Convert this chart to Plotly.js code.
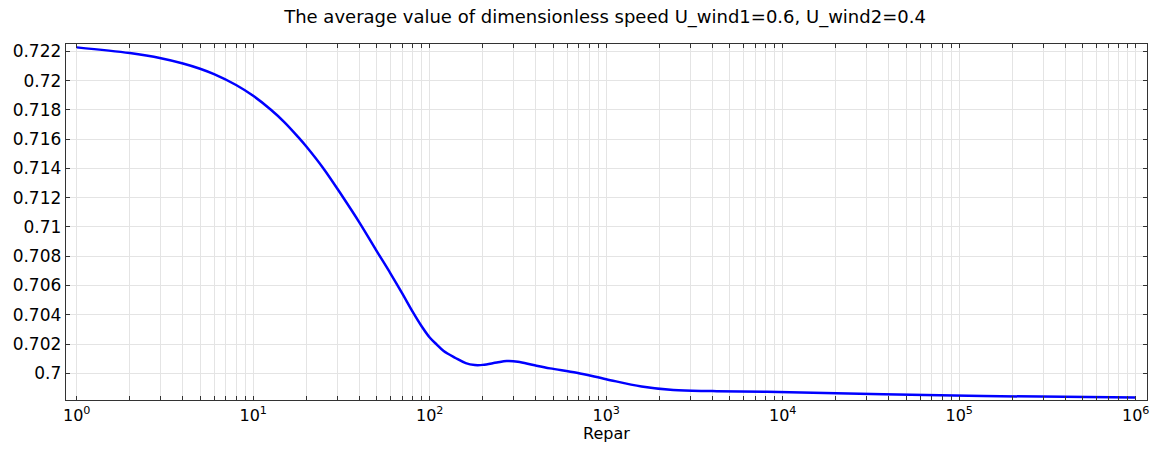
<!DOCTYPE html>
<html>
<head>
<meta charset="utf-8">
<script src="https://cdn.plot.ly/plotly-3.0.1.min.js"></script>
<style>html,body{margin:0;padding:0;background:#fff;}#chart{width:1168px;height:449px;}</style>
</head>
<body>
<div id="chart"></div>
<script>
const repar = [1, 2, 3, 4, 5, 6, 8, 10, 12.6, 15, 18, 20, 25, 32, 40, 50, 60, 70, 80, 90, 100, 110, 120, 140, 160, 180, 200, 240, 273, 316, 387, 481, 681, 1000, 1585, 2400, 4000, 8110, 37150, 136800, 1000000];
const avgSpeed = [0.72227, 0.72188, 0.72153, 0.72117, 0.72081, 0.72044, 0.71970, 0.71896, 0.71801, 0.71717, 0.71614, 0.71550, 0.71400, 0.71210, 0.71030, 0.70837, 0.70682, 0.70545, 0.70422, 0.70322, 0.70245, 0.70195, 0.70152, 0.70105, 0.70070, 0.70057, 0.70058, 0.70074, 0.70084, 0.70080, 0.70057, 0.70034, 0.70004, 0.69960, 0.69910, 0.69886, 0.69879, 0.69874, 0.69857, 0.69845, 0.69835];

const xTickVals = [];
const xTickText = [];
for (let e = 0; e <= 6; e++) {
  for (let m = 1; m <= 9; m++) {
    if (e === 6 && m > 1) break;
    xTickVals.push(m * Math.pow(10, e));
    xTickText.push(m === 1 ? '10<sup>' + e + '</sup>' : '');
  }
}
const yTickVals = [0.7, 0.702, 0.704, 0.706, 0.708, 0.71, 0.712, 0.714, 0.716, 0.718, 0.72, 0.722];
const yTickText = ['0.7', '0.702', '0.704', '0.706', '0.708', '0.71', '0.712', '0.714', '0.716', '0.718', '0.72', '0.722'];

const trace = {
  x: repar, y: avgSpeed, type: 'scatter', mode: 'lines',
  line: {color: '#0000ff', width: 2.5, shape: 'spline', smoothing: 1},
  hoverinfo: 'skip'
};
const layout = {
  width: 1168, height: 449,
  margin: {l: 66, r: 21, t: 44, b: 49},
  paper_bgcolor: '#fff', plot_bgcolor: '#fff',
  font: {family: 'DejaVu Sans', color: '#000'},
  title: {text: 'The average value of dimensionless speed U_wind1=0.6, U_wind2=0.4', x: 0.518, xanchor: 'center', y: 0.963, yanchor: 'middle', font: {size: 18, family: 'DejaVu Sans', color: '#000'}},
  showlegend: false,
  xaxis: {
    type: 'log', range: [-0.0606, 6.064],
    tickmode: 'array', tickvals: xTickVals, ticktext: xTickText,
    ticks: 'inside', ticklen: 4, tickcolor: '#333', tickwidth: 1,
    showline: true, linecolor: '#333', linewidth: 1.3, mirror: 'ticks',
    showgrid: true, gridcolor: '#e4e4e4', gridwidth: 1,
    zeroline: false,
    tickfont: {size: 16, family: 'DejaVu Sans', color: '#000'},
    title: {text: 'Repar', font: {size: 16, family: 'DejaVu Sans', color: '#000'}, standoff: 2}
  },
  yaxis: {
    range: [0.69818, 0.7225],
    tickmode: 'array', tickvals: yTickVals, ticktext: yTickText,
    ticks: 'inside', ticklen: 4, tickcolor: '#333', tickwidth: 1,
    showline: true, linecolor: '#333', linewidth: 1.3, mirror: 'ticks',
    showgrid: true, gridcolor: '#e4e4e4', gridwidth: 1,
    zeroline: false,
    tickfont: {size: 17, family: 'DejaVu Sans', color: '#000'}
  }
};
Plotly.newPlot('chart', [trace], layout, {staticPlot: true, displayModeBar: false});
</script>
</body>
</html>
